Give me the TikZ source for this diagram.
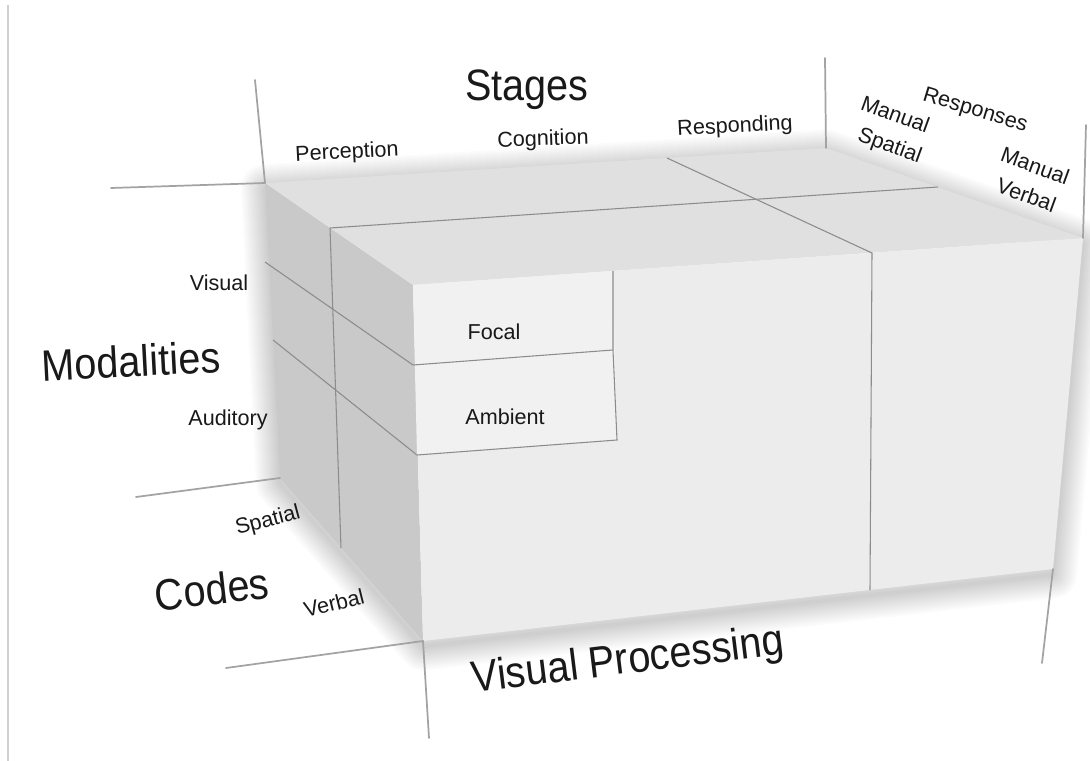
\documentclass[tikz,border=0pt]{standalone}
\usepackage{fontspec}
\setmainfont{Liberation Sans}
\newfontfamily\bigfont[FakeStretch=0.9]{Liberation Sans}
\begin{document}
\begin{tikzpicture}[x=0.75pt,y=-0.75pt,
  axisline/.style={draw=black!36, line width=1.3pt, line cap=round},
  gridline/.style={draw=black!45, line width=0.8pt},
  lbl/.style={text=black!90, font=\fontsize{16.2}{18}\selectfont, inner sep=0pt},
  pairlbl/.style={text=black!90, font=\fontsize{16.2}{22.9}\selectfont, inner sep=0pt, align=left},
  biglbl/.style={text=black!90, font=\bigfont\fontsize{33}{38}\selectfont, inner sep=0pt},
  leftface/.style={fill=black!21},
  topface/.style={fill=black!12},
  frontface/.style={fill=black!7.5},
  boxface/.style={fill=black!5.5},
]
\useasboundingbox (0,0) rectangle (1090,761);
\fill[white] (0,0) rectangle (1090,761);
\draw[black!18, line width=1pt] (8,5) -- (8,761);

% corners
\coordinate (BTL) at (265,183);
\coordinate (BTR) at (826,148);
\coordinate (FTR) at (1083,238);
\coordinate (FBR) at (1053,569);
\coordinate (FBL) at (423,641);
\coordinate (BBL) at (280,478);
\coordinate (FTL) at (413,285);

% soft shadow
\foreach \w in {3,6,...,36}
  \draw[black, opacity=0.016, line width=\w pt, line join=round]
    ([yshift=-4pt]BTL) -- ([yshift=-4pt]BTR) -- ([yshift=-4pt]FTR) -- ([yshift=-4pt]FBR) -- ([yshift=-4pt]FBL) -- ([yshift=-4pt]BBL) -- cycle;

% faces
\path[leftface] (BTL) -- (FTL) -- (FBL) -- (BBL) -- cycle;
\path[topface] (BTL) -- (BTR) -- (FTR) -- (FTL) -- cycle;
\path[frontface] (FTL) -- (FTR) -- (FBR) -- (FBL) -- cycle;

% axis lines
\coordinate (A1) at (255,80);
\coordinate (A2) at (111,188);
\coordinate (A3) at (136,497);
\coordinate (A4) at (226,668);
\coordinate (A5) at (429,738);
\coordinate (A6) at (825,58);
\coordinate (A7) at (1042,663);
\coordinate (A8) at (1086,125);
\draw[axisline] (A1) -- (BTL);
\draw[axisline] (A2) -- (BTL);
\draw[axisline] (A3) -- (BBL);
\draw[axisline] (A4) -- (FBL);
\draw[axisline] (FBL) -- (A5);
\draw[axisline] (A6) -- (BTR);
\draw[axisline] (FBR) -- (A7);
\draw[axisline] (A8) -- (FTR);

% grid lines on the box
\coordinate (SV1) at (330,228);
\coordinate (SV2) at (938,187);
\coordinate (SV3) at (341,548);
\coordinate (CR1) at (667,158);
\coordinate (CR2) at (872,253);
\coordinate (CR3) at (870,590);
\coordinate (FA1) at (265,262);
\coordinate (FA2) at (413,365);
\coordinate (VA1) at (273,340);
\coordinate (VA2) at (417,455);
\draw[gridline] (SV1) -- (SV2);
\draw[gridline] (SV1) -- (SV3);
\draw[gridline] (CR1) -- (CR2) -- (CR3);
\draw[gridline] (FA1) -- (FA2);
\draw[gridline] (VA1) -- (VA2);

% focal / ambient boxes
\coordinate (FO1) at (613,271);
\coordinate (FO2) at (613,350);
\coordinate (AM2) at (617,440);
\path[boxface] (FTL) -- (FO1) -- (AM2) -- (VA2) -- cycle;
\draw[gridline] (FA2) -- (FO2);
\draw[gridline] (FO1) -- (FO2) -- (AM2) -- (VA2);

% labels
\node[biglbl] (stages) at (527,90) {Stages};
\node[lbl, rotate=3] (perception) at (347,153) {Perception};
\node[lbl, rotate=2] (cognition) at (543,140) {Cognition};
\node[lbl, rotate=3] (responding) at (735,127) {Responding};
\node[lbl, rotate=-17] (responses) at (975,111) {Responses};
\node[pairlbl, rotate=-20] (mspatial) at (891,131) {Manual\\\hspace*{6pt}Spatial};
\node[pairlbl, rotate=-20] (mverbal) at (1030,180) {Manual\\\hspace*{5pt}Verbal};
\node[lbl] (visual) at (219,283) {Visual};
\node[biglbl, rotate=3] (modalities) at (131,361) {Modalities};
\node[lbl] (auditory) at (228,420) {Auditory};
\node[lbl] (focal) at (494,332) {Focal};
\node[lbl] (ambient) at (505,417) {Ambient};
\node[lbl, rotate=15] (spatial2) at (268,521) {Spatial};
\node[biglbl, rotate=6.5] (codes) at (212,589) {Codes};
\node[lbl, rotate=14] (verbal2) at (334,603) {Verbal};
\node[biglbl, rotate=7] (vp) at (628,662) {Visual Processing};
\end{tikzpicture}
\end{document}
